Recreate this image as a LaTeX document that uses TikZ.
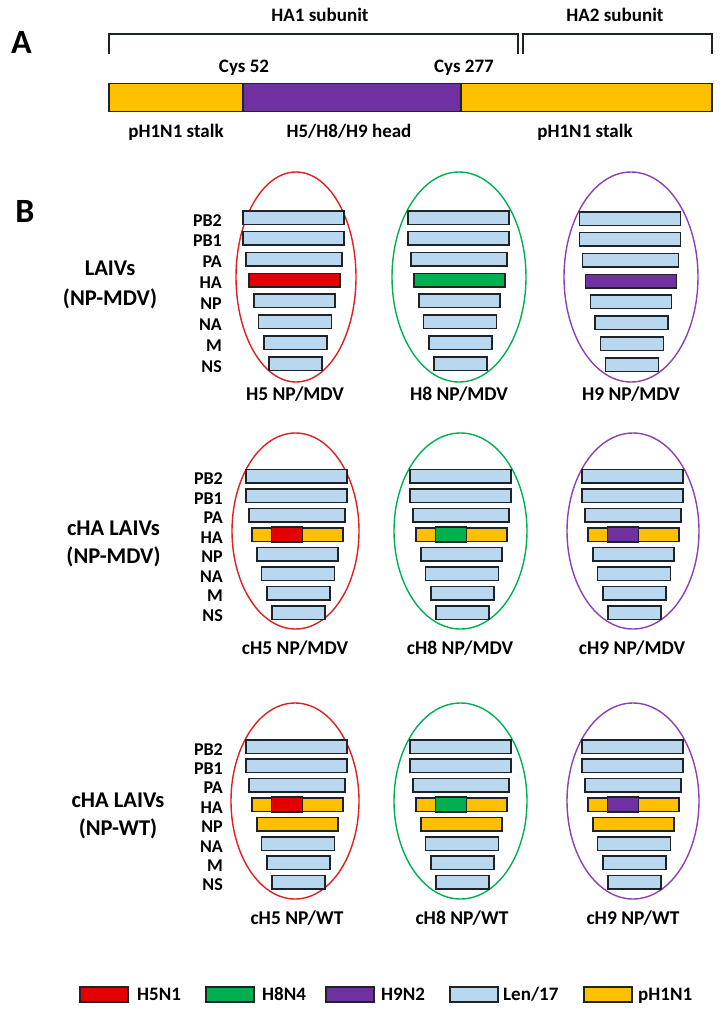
\documentclass[tikz,border=0pt]{standalone}
\usepackage{fontspec}
\setmainfont{Carlito}
\usetikzlibrary{calc}
\definecolor{lenblue}{RGB}{185,215,238}
\definecolor{hfive}{RGB}{228,0,0}
\definecolor{height}{RGB}{0,176,80}
\definecolor{hnine}{RGB}{112,48,160}
\definecolor{phone}{RGB}{255,192,0}
\definecolor{ellred}{RGB}{222,32,32}
\definecolor{ellgreen}{RGB}{0,176,80}
\definecolor{ellpurple}{RGB}{140,64,180}
\definecolor{outl}{RGB}{30,35,40}
\newcommand{\segbars}[6]{% prefix, cx, y0, dy, HA fill, NP fill
  \foreach \w/\off/\f [count=\i] in {101/0/lenblue,101/0/lenblue,96/0.5/lenblue,91/1/#5,81/1/#6,73/1.5/lenblue,63/2/lenblue,53/2/lenblue}{
    \node[segbar, fill=\f, minimum width=\w pt] (#1-\i) at ({#2+\off}, {#3+(\i-1)*#4}) {};
  }}
\newcommand{\seglabels}[4]{% prefix, x right, y0, dy
  \foreach \t [count=\i] in {PB2,PB1,PA,HA,NP,NA,M,NS}{
    \node[seglbl] (#1-\i) at (#2, {#3+(\i-1)*#4+8.5}) {\t};
  }}
\newcommand{\chimhead}[2]{% prefix, head colour
  \draw[segline, fill=#2] ($(#1-4.south west)+(20,0)$) rectangle ($(#1-4.north west)+(51,0)$);}
\begin{document}
\begin{tikzpicture}[x=1pt,y=-1pt,
  lbl/.style={font=\bfseries\fontsize{19}{22}\selectfont, inner sep=0, anchor=base},
  seglbl/.style={font=\bfseries\fontsize{18}{20}\selectfont, inner sep=0, anchor=base east},
  grp/.style={font=\bfseries\fontsize{22.5}{26}\selectfont, inner sep=0, anchor=base},
  big/.style={font=\bfseries\fontsize{34}{38}\selectfont, inner sep=0, anchor=base},
  vname/.style={font=\bfseries\fontsize{19.5}{22}\selectfont, inner sep=0, anchor=base},
  segline/.style={draw=outl, line width=1.5pt},
  segbar/.style={segline, rectangle, inner sep=0, minimum height=13.5pt},
  brk/.style={draw=outl, line width=1.2pt},
  ell/.style={line width=1.4pt},
  legbox/.style={segline, rectangle, inner sep=0, minimum width=48pt, minimum height=15pt},
  legtxt/.style={font=\bfseries\fontsize{19}{22}\selectfont, inner sep=0, anchor=base west}]
\useasboundingbox (0,0) rectangle (722,1009);

% ---------- Part A ----------
\node[big] (A) at (21.5,53) {A};
\node[lbl] (ha1) at (320,21) {HA1 subunit};
\node[lbl] (ha2) at (615,21) {HA2 subunit};
\draw[brk] (109,54) -- (109,34) -- (518,34) -- (518,54);
\draw[brk] (523,54) -- (523,34) -- (712,34) -- (712,54);
\node[lbl] (cys52) at (244,72) {Cys 52};
\node[lbl] (cys277) at (464,72) {Cys 277};
\draw[segline, fill=phone] (109,83.5) rectangle (243,111.5);
\draw[segline, fill=hnine] (243,83.5) rectangle (461,111.5);
\draw[segline, fill=phone] (461,83.5) rectangle (712,111.5);
\node[lbl] (stalk1) at (176,137) {pH1N1 stalk};
\node[lbl] (head) at (349,137) {H5/H8/H9 head};
\node[lbl] (stalk2) at (585,137) {pH1N1 stalk};

% ---------- Part B ----------
\node[big] (B) at (25,222) {B};

% Row 1
\node[grp] (r1a) at (110,275) {LAIVs};
\node[grp] (r1b) at (110,305) {(NP-MDV)};
\seglabels{r1l}{222}{217.5}{20.86}
\draw[ell, ellred] (296,277) ellipse [x radius=60pt, y radius=105pt];
\draw[ell, ellgreen] (459,277) ellipse [x radius=67pt, y radius=105pt];
\draw[ell, ellpurple] (631,277) ellipse [x radius=67pt, y radius=105pt];
\segbars{r1c1}{293.5}{217.5}{20.86}{hfive}{lenblue}
\segbars{r1c2}{458.5}{217.5}{20.86}{height}{lenblue}
\segbars{r1c3}{630}{218.5}{20.86}{hnine}{lenblue}
\node[vname] (n11) at (295,400) {H5 NP/MDV};
\node[vname] (n12) at (459,400) {H8 NP/MDV};
\node[vname] (n13) at (631,400) {H9 NP/MDV};

% Row 2
\node[grp] (r2a) at (113.5,535) {cHA LAIVs};
\node[grp] (r2b) at (113.5,563) {(NP-MDV)};
\seglabels{r2l}{223}{476}{19.5}
\draw[ell, ellred] (295.5,531) ellipse [x radius=63.5pt, y radius=98pt];
\draw[ell, ellgreen] (460.5,531) ellipse [x radius=66.5pt, y radius=98pt];
\draw[ell, ellpurple] (633,531) ellipse [x radius=66pt, y radius=98pt];
\segbars{r2c1}{296.5}{476}{19.5}{phone}{lenblue}
\segbars{r2c2}{460.5}{476}{19.5}{phone}{lenblue}
\segbars{r2c3}{632.5}{476}{19.5}{phone}{lenblue}
\chimhead{r2c1}{hfive}
\chimhead{r2c2}{height}
\chimhead{r2c3}{hnine}
\node[vname] (n21) at (295,654) {cH5 NP/MDV};
\node[vname] (n22) at (460,654) {cH8 NP/MDV};
\node[vname] (n23) at (632,654) {cH9 NP/MDV};

% Row 3
\node[grp] (r3a) at (118,807) {cHA LAIVs};
\node[grp] (r3b) at (118,835) {(NP-WT)};
\seglabels{r3l}{223}{746.5}{19.4}
\draw[ell, ellred] (295,801) ellipse [x radius=64pt, y radius=98pt];
\draw[ell, ellgreen] (460.5,801) ellipse [x radius=66.5pt, y radius=98pt];
\draw[ell, ellpurple] (633,801) ellipse [x radius=66pt, y radius=98pt];
\segbars{r3c1}{296.5}{746.5}{19.4}{phone}{phone}
\segbars{r3c2}{460.5}{746.5}{19.4}{phone}{phone}
\segbars{r3c3}{632.5}{746.5}{19.4}{phone}{phone}
\chimhead{r3c1}{hfive}
\chimhead{r3c2}{height}
\chimhead{r3c3}{hnine}
\node[vname] (n31) at (297,924) {cH5 NP/WT};
\node[vname] (n32) at (462,924) {cH8 NP/WT};
\node[vname] (n33) at (633,924) {cH9 NP/WT};

% ---------- Legend ----------
\node[legbox, fill=hfive] (k1) at (104,994.5) {};
\node[legtxt] (t1) at (137,1000) {H5N1};
\node[legbox, fill=height] (k2) at (230,994.5) {};
\node[legtxt] (t2) at (262,1000) {H8N4};
\node[legbox, fill=hnine] (k3) at (350,994.5) {};
\node[legtxt] (t3) at (381,1000) {H9N2};
\node[legbox, fill=lenblue] (k4) at (474,994.5) {};
\node[legtxt] (t4) at (503,1000) {Len/17};
\node[legbox, fill=phone] (k5) at (608,994.5) {};
\node[legtxt] (t5) at (638,1000) {pH1N1};
\end{tikzpicture}
\end{document}
